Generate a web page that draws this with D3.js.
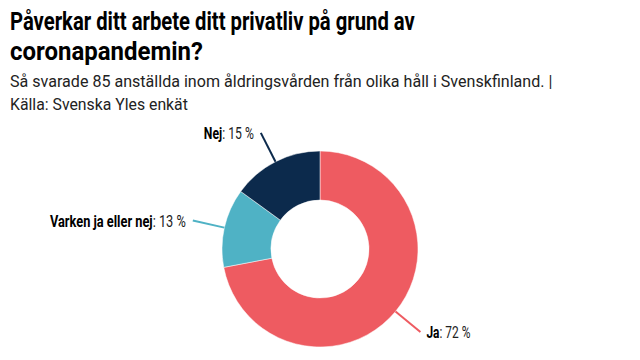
<!DOCTYPE html>
<html><head><meta charset="utf-8">
<script src="https://cdn.jsdelivr.net/npm/d3@7"></script>
<style>
body{margin:0;background:#fff;}
svg{display:block;font-family:Roboto,"DejaVu Sans",sans-serif;}
</style></head>
<body><svg id="c" width="640" height="360"></svg>
<script>
const categories = ["Ja", "Varken ja eller nej", "Nej"];
const values = [72, 13, 15];
const colors = ["#ee5b61", "#4fb2c5", "#0c2a4c"];
const titleLines = ["Påverkar ditt arbete ditt privatliv på grund av", "coronapandemin?"];
const subtitleLines = ["Så svarade 85 anställda inom åldringsvården från olika håll i Svenskfinland. |", "Källa: Svenska Yles enkät"];

const svg = d3.select("#c");
svg.append("rect").attr("width",640).attr("height",360).attr("fill","#fff");

// horizontally squeeze a text element to a target width (condensed look)
function fit(sel, target, anchorX){
  const w = sel.node().getComputedTextLength();
  const k = target / w;
  sel.attr("transform", `translate(${anchorX},0) scale(${k},1) translate(${-anchorX},0)`);
}

const titleW = [405, 193];
svg.selectAll("text.title").data(titleLines).join("text")
  .attr("class","title").attr("x",10).attr("y",(d,i)=>30+i*30)
  .attr("font-size",25.5).attr("font-weight","bold").attr("fill","#000").text(d=>d)
  .each(function(d,i){ fit(d3.select(this), titleW[i], 10); });
const subW = [543, 178];
svg.selectAll("text.sub").data(subtitleLines).join("text")
  .attr("class","sub").attr("x",10).attr("y",(d,i)=>87+i*23)
  .attr("font-size",17).attr("fill","#222").text(d=>d)
  .each(function(d,i){ fit(d3.select(this), subW[i], 10); });

const cx = 320, cy = 249, R = 98, r = 49;
const g = svg.append("g").attr("transform",`translate(${cx},${cy})`);
const data = categories.map((c,i)=>({name:c, value:values[i], color:colors[i]}));
const pie = d3.pie().value(d=>d.value).sort(null);
const arcs = pie(data);
const arc = d3.arc().innerRadius(r).outerRadius(R);
g.selectAll("path").data(arcs).join("path")
  .attr("d",arc).attr("fill",d=>d.data.color).attr("stroke","#fff").attr("stroke-width",0.5);

const labelW = {"Ja":44, "Varken ja eller nej":136, "Nej":50};
const pt = (a, rad) => [Math.sin(a)*rad, -Math.cos(a)*rad];
arcs.forEach(d=>{
  const a = (d.startAngle+d.endAngle)/2;
  const p0 = pt(a, R), p1 = pt(a, R*1.33);
  g.append("line").attr("x1",p0[0]).attr("y1",p0[1]).attr("x2",p1[0]).attr("y2",p1[1])
    .attr("stroke",d.data.color).attr("stroke-width",2);
  const right = Math.sin(a) > 0;
  const tx = p1[0] + (right?6:-7);
  const t = g.append("text").attr("x", tx).attr("y", p1[1]+6)
    .attr("text-anchor", right?"start":"end").attr("font-size",16).attr("fill","#000");
  t.append("tspan").attr("font-weight","bold").text(d.data.name);
  t.append("tspan").attr("fill","#222").text(": " + d.data.value + " %");
  fit(t, labelW[d.data.name], tx);
});
</script></body></html>
